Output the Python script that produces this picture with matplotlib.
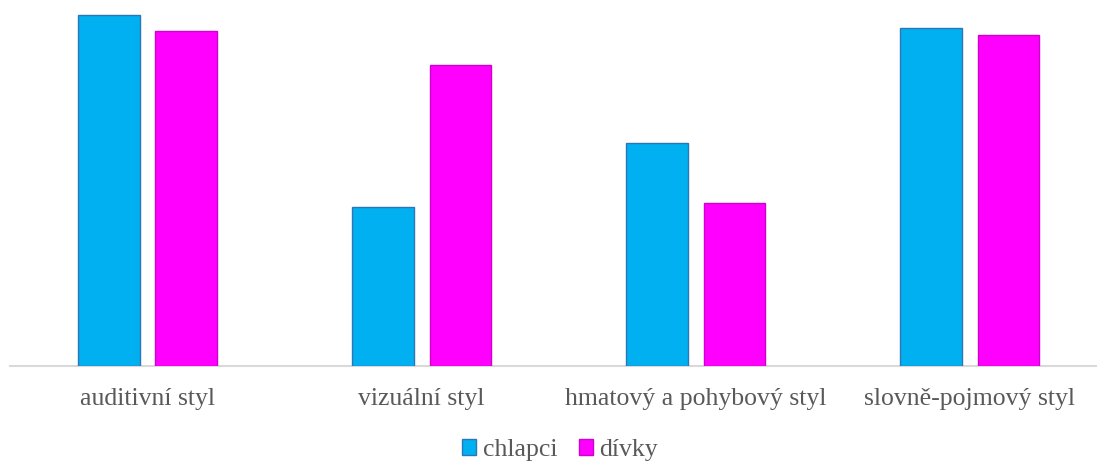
import matplotlib
matplotlib.use("Agg")
import matplotlib.pyplot as plt
import numpy as np

categories = ["auditivní styl", "vizuální styl", "hmatový a pohybový styl", "slovně-pojmový styl"]
series_names = ["chlapci", "dívky"]
chlapci = [35.1, 15.9, 22.3, 33.8]
divky = [33.5, 30.1, 16.3, 33.1]

W, H = 1097, 465
fig = plt.figure(figsize=(W / 100, H / 100), dpi=100)
plt.rcParams["font.family"] = ["Liberation Serif", "DejaVu Serif"]

# axes spanning from the baseline up to near the top edge
left_px, right_px, base_px, top_px = 10, 1097, 366, 10
ax = fig.add_axes([left_px / W, (H - base_px) / H,
                   (right_px - left_px) / W, (base_px - top_px) / H])

x = np.arange(len(categories))
width = 0.226
offset = 0.142
fill_colors = ["#00B0F0", "#FF00FF"]
edge_colors = ["#2E75B6", "#D000D0"]

ax.bar(x - offset, chlapci, width, color=fill_colors[0], edgecolor=edge_colors[0],
       linewidth=1.0, label=series_names[0], zorder=3)
ax.bar(x + offset, divky, width, color=fill_colors[1], edgecolor=edge_colors[1],
       linewidth=1.0, label=series_names[1], zorder=3)

ax.set_xlim(-0.502, 3.465)
ax.set_ylim(0, 35.6)

for s in ["top", "right", "left"]:
    ax.spines[s].set_visible(False)
ax.spines["bottom"].set_color("#D9D9D9")
ax.spines["bottom"].set_linewidth(1.5)
ax.set_yticks([])
ax.set_xticks(x)
ax.set_xticklabels(categories, fontsize=18.5, color="#595959")
ax.tick_params(axis="x", length=0, pad=16)

leg = fig.legend(loc="center", bbox_to_anchor=(560 / W, 1 - 450 / H), ncol=2,
                 frameon=False, fontsize=18.5, labelcolor="#595959",
                 handlelength=0.55, handleheight=0.55, handletextpad=0.25,
                 columnspacing=0.85)

fig.savefig("out.png", dpi=100)
